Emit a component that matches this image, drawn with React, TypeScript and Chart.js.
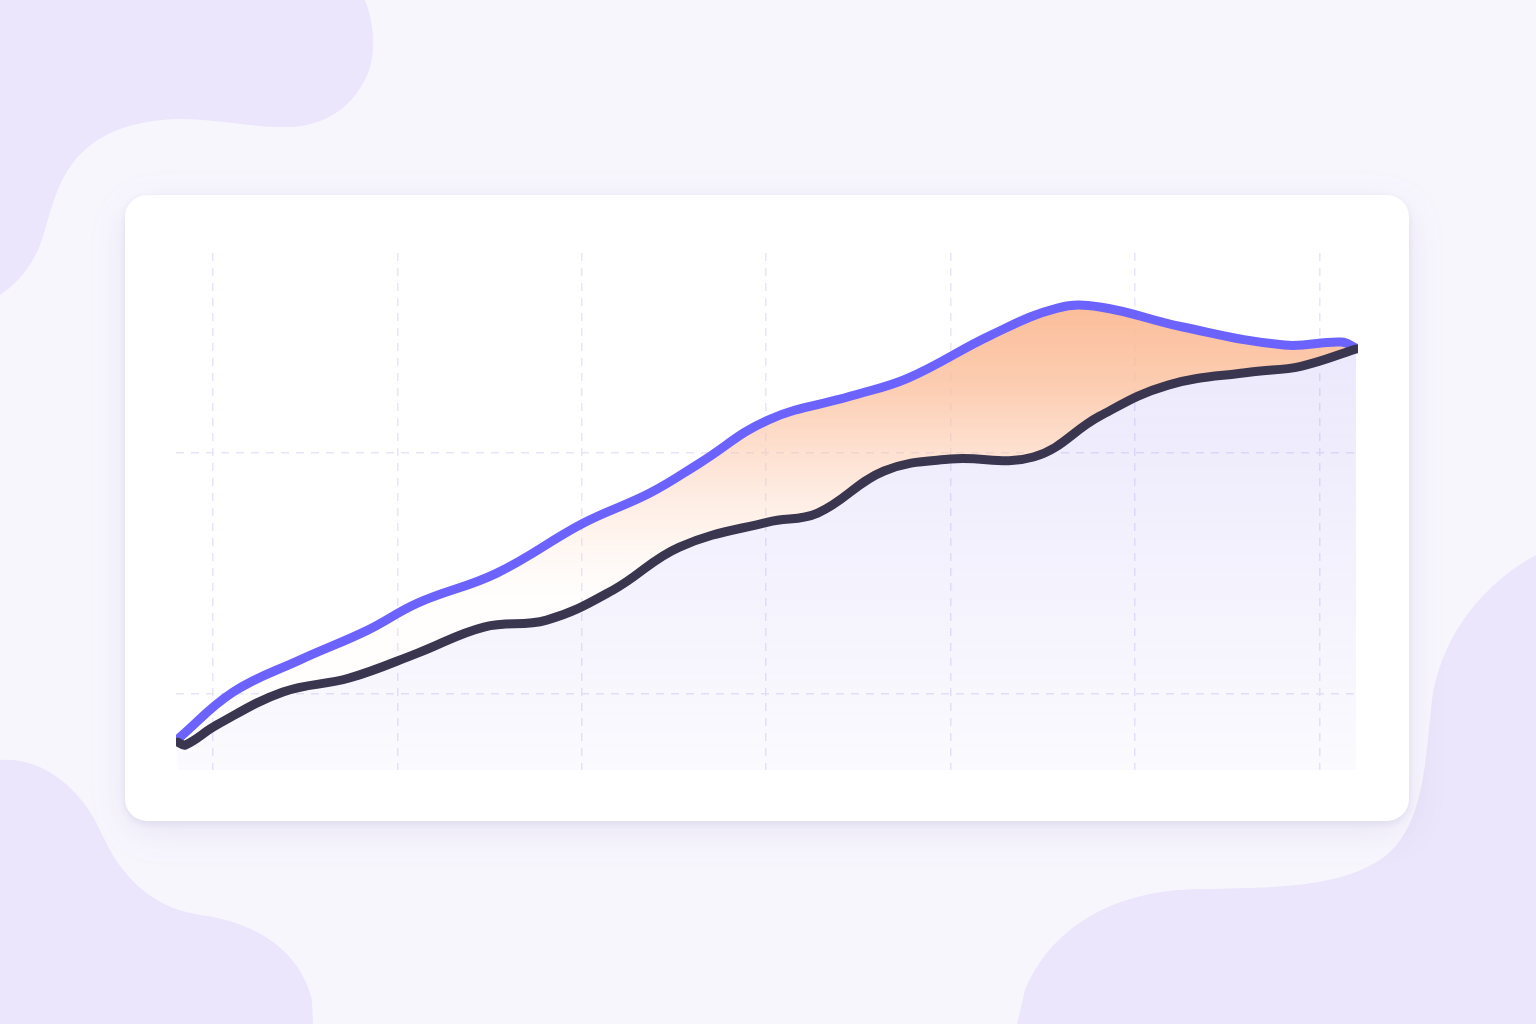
import { useEffect, useRef } from "react";
import { Chart, registerables } from "chart.js";

Chart.register(...registerables);

// x: period index (grid lines at 1..7), y: value (grid lines at 20 and 40)
const X_TICKS = [1, 2, 3, 4, 5, 6, 7];
const Y_TICKS = [20, 40];

const upperX = [0.81, 1.11, 1.47, 1.84, 2.11, 2.54, 3.01, 3.37, 3.64, 4.01, 4.46, 4.77, 5.22, 5.58, 5.81, 6.26, 6.81, 7.12, 7.2];
const upperY = [16.27, 20.17, 22.82, 25.31, 27.55, 30.04, 34.19, 36.68, 39.17, 42.74, 44.73, 46.22, 49.79, 52.03, 52.12, 50.46, 48.96, 49.21, 48.71];

const lowerX = [0.81, 0.85, 1.02, 1.38, 1.74, 2.11, 2.47, 2.81, 3.17, 3.53, 4.01, 4.28, 4.64, 5.0, 5.45, 5.81, 6.18, 6.63, 6.9, 7.2];
const lowerY = [16.02, 15.77, 17.43, 20.17, 21.33, 23.4, 25.56, 26.14, 28.63, 32.2, 34.27, 35.02, 38.51, 39.5, 39.67, 43.07, 45.64, 46.72, 47.2, 48.63];

const GRID_COLOR = "#e8e5f9";

export default function App() {
  const ref = useRef<HTMLCanvasElement>(null);

  useEffect(() => {
    document.body.style.margin = "0";
    const canvas = ref.current!;

    const orangeFill = (ctx: any) => {
      const chart = ctx.chart;
      if (!chart.chartArea) return "rgba(0,0,0,0)";
      const y = chart.scales.y;
      const g = chart.ctx.createLinearGradient(0, y.getPixelForValue(53), 0, y.getPixelForValue(28));
      g.addColorStop(0, "rgba(251,182,142,0.92)");
      g.addColorStop(0.3, "rgba(251,186,148,0.72)");
      g.addColorStop(0.6, "rgba(252,196,165,0.4)");
      g.addColorStop(1, "rgba(254,220,200,0.04)");
      return g;
    };

    const lavenderFill = (ctx: any) => {
      const chart = ctx.chart;
      const area = chart.chartArea;
      if (!area) return "rgba(0,0,0,0)";
      const y = chart.scales.y;
      const g = chart.ctx.createLinearGradient(0, y.getPixelForValue(48), 0, area.bottom);
      g.addColorStop(0, "rgba(118,100,232,0.14)");
      g.addColorStop(1, "rgba(118,100,232,0.03)");
      return g;
    };

    const axis = (min: number, max: number, ticks: number[]) => ({
      type: "linear" as const,
      min,
      max,
      afterBuildTicks: (s: any) => {
        s.ticks = ticks.map((v) => ({ value: v }));
      },
      ticks: { display: false },
      grid: { color: GRID_COLOR, lineWidth: 1.5, drawTicks: false, borderDash: [8, 7] },
      border: { display: false, dash: [8, 7] },
    });

    const line = {
      borderWidth: 9,
      borderCapStyle: "round",
      borderJoinStyle: "round",
      pointRadius: 0,
      tension: 0.4,
    };

    const chart = new Chart(canvas, {
      type: "line",
      data: {
        datasets: [
          {
            label: "Actual",
            data: lowerX.map((x, i) => ({ x, y: lowerY[i] })),
            borderColor: "#3a3650",
            ...line,
            fill: "start",
            backgroundColor: lavenderFill,
          },
          {
            label: "Target",
            data: upperX.map((x, i) => ({ x, y: upperY[i] })),
            borderColor: "#6c63ff",
            ...line,
            fill: 0,
            backgroundColor: orangeFill,
          },
        ],
      } as any,
      options: {
        responsive: false,
        animation: false,
        devicePixelRatio: 1,
        layout: { padding: { left: 176, right: 178, top: 253, bottom: 254 } },
        plugins: { legend: { display: false }, tooltip: { enabled: false } },
        scales: {
          x: axis(0.8, 7.21, X_TICKS),
          y: axis(13.7, 56.6, Y_TICKS),
        },
      } as any,
    });
    return () => chart.destroy();
  }, []);

  return (
    <div
      style={{
        position: "fixed",
        left: 0,
        top: 0,
        width: 1536,
        height: 1024,
        background: "#f8f6fd",
        overflow: "hidden",
      }}
    >
      <svg width={1536} height={1024} style={{ position: "absolute", left: 0, top: 0 }}>
        <path
          d="M0,0 L365,0 C375,25 378,60 362,85 C345,115 315,128 283,127 C250,127 215,119 180,119 C130,120 90,135 68,170 C52,195 48,225 40,245 C30,270 15,285 0,295 Z"
          fill="#ebe6fb"
        />
        <path
          d="M0,760 C45,757 78,790 95,820 C115,865 140,905 200,915 C255,922 300,950 312,1000 L313,1024 L0,1024 Z"
          fill="#ebe6fb"
        />
        <path
          d="M1536,555 C1480,585 1440,640 1432,700 C1425,760 1425,830 1380,860 C1340,885 1290,888 1200,889 C1110,890 1050,930 1025,990 L1017,1024 L1536,1024 Z"
          fill="#ebe6fb"
        />
      </svg>
      <div
        style={{
          position: "absolute",
          left: 125,
          top: 195,
          width: 1284,
          height: 626,
          background: "#ffffff",
          borderRadius: 22,
          boxShadow: "0 3px 6px rgba(90,80,150,0.09), 0 10px 40px rgba(90,80,170,0.10)",
        }}
      />
      <canvas
        ref={ref}
        width={1536}
        height={1024}
        style={{ position: "absolute", left: 0, top: 0, width: 1536, height: 1024 }}
      />
    </div>
  );
}
